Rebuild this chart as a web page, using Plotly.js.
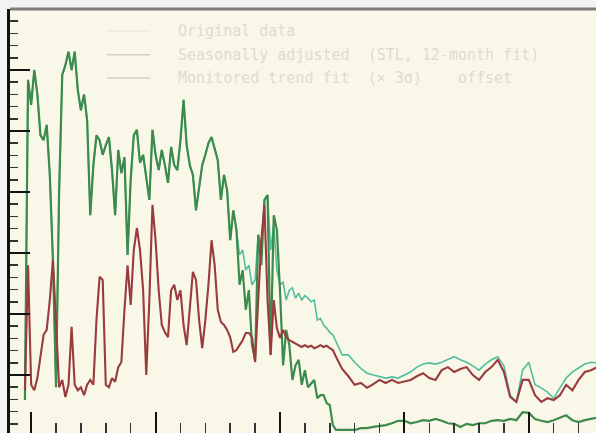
<!DOCTYPE html>
<html>
<head>
<meta charset="utf-8">
<script src="https://cdn.plot.ly/plotly-3.0.1.min.js"></script>
<style>
  html, body { margin: 0; padding: 0; background: #f3f3f1; }
  #chart { width: 596px; height: 433px; }
</style>
</head>
<body>
<div id="chart"></div>
<script>
// Time axis (years): quarterly to 1975, half-yearly afterwards
const years = [
  1949.5, 1949.75,
  1950, 1950.25, 1950.5, 1950.75, 1951, 1951.25, 1951.5, 1951.75,
  1952, 1952.25, 1952.5, 1952.75, 1953, 1953.25, 1953.5, 1953.75,
  1954, 1954.25, 1954.5, 1954.75, 1955, 1955.25, 1955.5, 1955.75,
  1956, 1956.25, 1956.5, 1956.75, 1957, 1957.25, 1957.5, 1957.75,
  1958, 1958.25, 1958.5, 1958.75, 1959, 1959.25, 1959.5, 1959.75,
  1960, 1960.25, 1960.5, 1960.75, 1961, 1961.25, 1961.5, 1961.75,
  1962, 1962.25, 1962.5, 1962.75, 1963, 1963.25, 1963.5, 1963.75,
  1964, 1964.25, 1964.5, 1964.75, 1965, 1965.25, 1965.5, 1965.75,
  1966, 1966.25, 1966.5, 1966.75, 1967, 1967.25, 1967.5, 1967.75,
  1968, 1968.25, 1968.5, 1968.75, 1969, 1969.25, 1969.5, 1969.75,
  1970, 1970.25, 1970.5, 1970.75, 1971, 1971.25, 1971.5, 1971.75,
  1972, 1972.25, 1972.5, 1972.75, 1973, 1973.25, 1973.5, 1973.75,
  1974, 1974.25, 1974.5, 1974.75, 1975,
  1975.5, 1976, 1976.5, 1977, 1977.5, 1978, 1978.5, 1979, 1979.5, 1980,
  1980.5, 1981, 1981.5, 1982, 1982.5, 1983, 1983.5, 1984, 1984.5, 1985,
  1985.5, 1986, 1986.5, 1987, 1987.5, 1988, 1988.5, 1989, 1989.5, 1990,
  1990.5, 1991, 1991.5, 1992, 1992.5, 1993, 1993.5, 1994, 1994.5, 1995,
  1995.5
];

// Original series (green)
const originalData = [
  5.9, 58.4, 54.3, 60.0, 56.0, 49.3, 48.5, 51.0, 42.8, 28.9,
  8.0, 40.3, 59.2, 60.8, 63.0, 60.0, 63.0, 56.7, 53.4, 56.0,
  51.8, 36.2, 44.4, 49.3, 48.5, 46.1, 47.7, 49.0, 43.6, 36.2,
  46.9, 43.1, 45.7, 29.7, 42.0, 49.3, 50.2, 44.8, 46.1, 42.8,
  38.7, 50.2, 46.1, 43.6, 46.9, 44.4, 41.5, 47.4, 44.4, 43.6,
  48.5, 55.1, 47.7, 44.4, 42.8, 37.0, 40.3, 44.4, 46.1, 48.0,
  49.0, 46.9, 45.2, 38.7, 42.8, 40.3, 32.1, 37.0, 33.8, 24.8,
  27.2, 20.7, 23.9, 14.9, 12.5, 33.0, 28.0, 38.7, 39.5, 13.3,
  36.2, 33.8, 23.9, 11.6, 17.4, 14.9, 9.2, 11.6, 12.5, 8.4,
  10.8, 8.0, 8.7, 9.2, 6.2, 6.7, 6.7, 5.4, 5.1, 1.8,
  1.0, 1.0, 1.1,
  1.0, 1.0, 1.3, 1.3, 1.5, 1.6, 1.8, 2.1, 2.5, 2.5,
  2.1, 2.3, 2.6, 2.5, 2.8, 2.5, 2.1, 2.0, 1.5, 2.0,
  1.8, 2.1, 2.1, 2.5, 2.6, 2.5, 2.8, 2.6, 3.9, 3.8,
  2.8, 2.5, 2.3, 2.6, 3.0, 3.4, 2.6, 2.3, 2.6, 2.8,
  3.0
];

// Seasonally adjusted series (teal)
const adjustedData = [
  5.9, 58.4, 54.3, 60.0, 56.0, 49.3, 48.5, 51.0, 42.8, 28.9,
  8.0, 40.3, 59.2, 60.8, 63.0, 60.0, 63.0, 56.7, 53.4, 56.0,
  51.8, 36.2, 44.4, 49.3, 48.5, 46.1, 47.7, 49.0, 43.6, 36.2,
  46.9, 43.1, 45.7, 29.7, 42.0, 49.3, 50.2, 44.8, 46.1, 42.8,
  38.7, 50.2, 46.1, 43.6, 46.9, 44.4, 41.5, 47.4, 44.4, 43.6,
  48.5, 55.1, 47.7, 44.4, 42.8, 37.0, 40.3, 44.4, 46.1, 48.0,
  49.0, 46.9, 45.2, 38.7, 42.8, 40.3, 32.1, 37.0, 33.8, 29.7,
  30.5, 27.2, 28.0, 24.8, 25.6, 33.0, 31.3, 38.7, 39.5, 30.5,
  34.6, 27.2, 24.8, 25.2, 22.3, 23.9, 24.3, 22.6, 23.4, 22.3,
  23.0, 22.6, 22.0, 22.3, 19.0, 19.3, 18.2, 17.7, 17.0, 16.6,
  15.4, 14.4, 13.3,
  13.3, 12.1, 11.1, 10.3, 10.0, 9.8, 9.5, 9.7, 9.5, 10.0,
  10.5, 11.3, 11.8, 12.0, 11.8, 12.1, 12.5, 13.0, 12.5, 12.1,
  11.5, 10.8, 11.8, 12.5, 13.0, 11.5, 6.7, 5.6, 10.8, 12.1,
  8.4, 7.9, 7.2, 6.2, 7.9, 9.5, 10.5, 11.1, 11.8, 12.1,
  12.0
];

// Trend component (dark red)
const trendData = [
  7.5, 28.0, 8.4, 7.5, 9.5, 13.0, 16.6, 17.4, 22.3, 28.9,
  17.4, 8.0, 9.2, 6.4, 8.4, 17.9, 8.4, 7.5, 8.0, 6.7,
  8.4, 9.2, 8.4, 19.0, 26.1, 25.6, 8.4, 8.0, 9.5, 8.9,
  11.3, 12.1, 20.7, 28.0, 21.5, 30.5, 34.1, 30.5, 23.9, 10.0,
  22.3, 37.9, 32.1, 23.9, 18.2, 17.0, 16.2, 23.9, 24.8, 22.3,
  23.9, 18.2, 14.9, 20.7, 26.9, 25.6, 19.0, 14.4, 19.0, 24.8,
  32.1, 28.0, 20.7, 18.7, 18.2, 17.4, 16.2, 13.8, 14.1, 14.9,
  15.7, 16.9, 16.9, 16.2, 12.1, 22.3, 32.1, 37.9, 22.3, 13.3,
  22.3, 17.7, 16.1, 17.4, 16.2, 15.7, 15.4, 15.2, 14.9, 14.6,
  14.9, 14.6, 14.8, 14.4, 14.6, 14.9, 14.6, 14.8, 14.4, 14.1,
  13.0, 12.0, 11.0,
  9.8, 8.4, 8.7, 7.9, 8.5, 9.2, 8.7, 9.2, 8.7, 8.9,
  9.2, 9.8, 10.3, 9.5, 9.2, 10.8, 11.3, 10.5, 11.0, 11.3,
  10.0, 9.2, 10.5, 11.3, 12.5, 10.5, 6.4, 5.6, 9.2, 9.2,
  6.7, 5.6, 6.2, 5.9, 6.7, 8.4, 7.5, 9.2, 10.5, 10.8,
  11.3
];

// Legend entries
const legendLabels = [
  "Original data",
  "Seasonally adjusted  (STL, 12-month fit)",
  "Monitored trend fit  (\u00d7 3\u03c3)    offset"
];
const legendColors = ["#ecebdf", "#cfcfc6", "#cfcfc6"];

const traces = [
  { x: years, y: adjustedData, type: "scatter", mode: "lines",
    line: { color: "#52bfa0", width: 1.6 }, showlegend: false, hoverinfo: "skip" },
  { x: years, y: originalData, type: "scatter", mode: "lines",
    line: { color: "#3d8b4c", width: 2.2 }, showlegend: false, hoverinfo: "skip" },
  { x: years, y: trendData, type: "scatter", mode: "lines",
    line: { color: "#9a3b3e", width: 2.1 }, showlegend: false, hoverinfo: "skip" }
];

// Hand-drawn legend: short line samples plus labels
const legendRowsY = [0.948, 0.892, 0.837];
const shapes = [
  { type: "line", xref: "paper", yref: "paper", x0: 0, x1: 1, y0: 1, y1: 1,
    line: { color: "#7c7c7c", width: 3 } }
];
const annotations = [];
legendLabels.forEach((label, i) => {
  shapes.push({ type: "line", xref: "paper", yref: "paper",
    x0: 0.166, x1: 0.239, y0: legendRowsY[i], y1: legendRowsY[i],
    line: { color: legendColors[i], width: 1.5 } });
  annotations.push({ xref: "paper", yref: "paper", x: 0.283, y: legendRowsY[i],
    xanchor: "left", yanchor: "middle", showarrow: false, text: label,
    font: { family: "DejaVu Sans Mono, monospace", size: 15, color: "#dcdcd3" } });
});

const layout = {
  width: 596, height: 433,
  margin: { l: 10, r: 0, t: 9, b: 0, pad: 0 },
  paper_bgcolor: "#f3f3f1",
  plot_bgcolor: "#f9f7e7",
  showlegend: false,
  xaxis: {
    range: [1948.3, 1995.4], showgrid: false, zeroline: false, showline: false,
    showticklabels: false, ticks: "inside", tick0: 1950, dtick: 10,
    ticklen: 21, tickwidth: 2, tickcolor: "#111",
    minor: { ticks: "inside", dtick: 2, ticklen: 10, tickwidth: 1.5, tickcolor: "#333", showgrid: false }
  },
  yaxis: {
    range: [0.5, 70], showgrid: false, zeroline: false,
    showline: true, linecolor: "#111", linewidth: 3,
    showticklabels: false, ticks: "inside", tick0: 0, dtick: 10,
    ticklen: 20, tickwidth: 2, tickcolor: "#111",
    minor: { ticks: "inside", dtick: 2, ticklen: 8, tickwidth: 1.5, tickcolor: "#333", showgrid: false }
  },
  shapes: shapes,
  annotations: annotations
};

Plotly.newPlot("chart", traces, layout, { displayModeBar: false, staticPlot: true });
</script>
</body>
</html>
